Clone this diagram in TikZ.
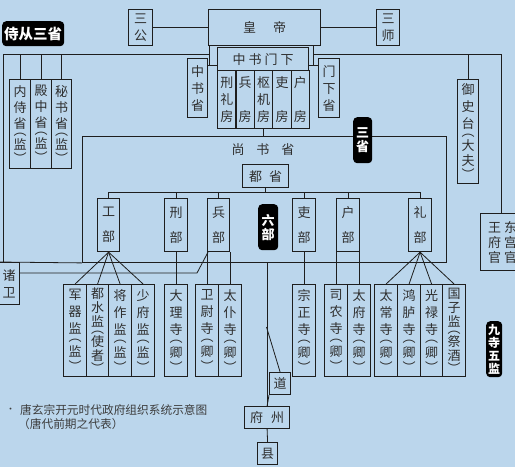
\documentclass[tikz,border=0pt]{standalone}
\usepackage{fontspec}
\setmainfont{Noto Sans CJK SC}
\definecolor{bg}{HTML}{BBD6EC}
\definecolor{ln}{HTML}{1E1E1E}
\definecolor{tx}{HTML}{2E2E2E}
\definecolor{cap}{HTML}{3C3C3C}
\newcommand\vp[1]{\\[-9pt]︵\\[-2pt]#1\\[-2pt]︶}
\newcommand\vq[2]{\\[-7pt]︵\\[-1pt]#1\\#2\\[-1pt]︶}
\tikzset{
  bx/.style={draw=ln, line width=1.2pt, inner sep=0pt, align=center, text=tx,
    font=\fontsize{13}{17}\selectfont, anchor=north west},
  sz/.style 2 args={minimum width=#1, minimum height=#2},
  con/.style={draw=ln, line width=0.8pt},
  tag/.style={fill=black, rounded corners=4pt, text=white, inner sep=0pt, align=center,
    anchor=north west, font=\fontsize{13}{14}\selectfont\bfseries},
}
\begin{document}
\begin{tikzpicture}[x=1pt,y=-1pt]
\useasboundingbox (0,0) rectangle (515,467);
\fill[bg] (0,0) rectangle (515,467);
\clip (0,0) rectangle (515,467);

% top
\node[bx,sz={112}{36}] (hd) at (208,9) {皇\hspace{17pt}帝};
\node[bx,sz={24}{36}] (sg) at (128,9) {三\\公};
\node[bx,sz={23}{36}] (ss) at (376,9) {三\\师};
\node[bx,sz={91}{23}] (zm) at (217,47) {中\hspace{3pt}书\hspace{3pt}门\hspace{3pt}下};
\node[bx,sz={18.4}{58}] (c1) at (217,70) {刑\\礼\\房};
\node[bx,sz={18.4}{58}] (c2) at (235.4,70) {兵\\[17pt]房};
\node[bx,sz={18.4}{58}] (c3) at (253.8,70) {枢\\机\\房};
\node[bx,sz={18.4}{58}] (c4) at (272.2,70) {吏\\[17pt]房};
\node[bx,sz={18.4}{58}] (c5) at (290.6,70) {户\\[17pt]房};
\node[bx,sz={20}{59}] (zss) at (187,58) {中\\书\\省};
\node[bx,sz={21}{59}] (mxs) at (318,58) {门\\下\\省};

% attendants
\node[bx,sz={21}{89},font=\fontsize{13}{16}\selectfont] (nsj) at (9,79) {内\\侍\\省\vp{监}};
\node[bx,sz={21}{89},font=\fontsize{13}{16}\selectfont] (dzs) at (30,79) {殿\\中\\省\vp{监}};
\node[bx,sz={20}{89},font=\fontsize{13}{16}\selectfont] (msj) at (51,79) {秘\\书\\省\vp{监}};
\node[bx,sz={21}{104}] (ysd) at (457,79) {御\\史\\台\\[-9pt]︵\\[-3pt]大\\[-2pt]夫\\[-3pt]︶};
\node[bx,sz={44}{57},font=\fontsize{13}{15}\selectfont] (dg) at (480,213) {王\hspace{3pt}东\\府\hspace{3pt}宫\\官\hspace{3pt}官};
\node[bx,sz={21}{42}] (zw) at (-2,262) {诸\\卫};

% shangshu
\node[draw=ln, line width=0.9pt, sz={364}{126}, anchor=north west, inner sep=0pt] (ssx) at (82,136) {};
\node[text=tx, font=\fontsize{13}{15}\selectfont, inner sep=0pt] (sst) at (263,150) {尚\hspace{12pt}书\hspace{12pt}省};
\node[bx,sz={46}{23}] (ds) at (242,164) {都\hspace{7pt}省};
\node[bx,sz={22}{53}] (gb) at (97,198) {工\\[8pt]部};
\node[bx,sz={23}{53}] (xb) at (164,198) {刑\\[8pt]部};
\node[bx,sz={22}{53}] (bb) at (207,198) {兵\\[8pt]部};
\node[bx,sz={23}{53}] (lib) at (292,198) {吏\\[8pt]部};
\node[bx,sz={23}{53}] (hb) at (336,198) {户\\[8pt]部};
\node[bx,sz={23}{53}] (lj) at (408,198) {礼\\[8pt]部};

% offices
\tikzset{of/.style={bx,sz={23}{92},font=\fontsize{13}{17}\selectfont}, oq/.style={bx,sz={22}{92},font=\fontsize{13}{14}\selectfont}}
\node[of] (jq) at (63,284) {军\\器\\监\vp{监}};
\node[oq] (dsj) at (86,284) {都\\水\\监\vq{使}{者}};
\node[of] (jz) at (108,284) {将\\作\\监\vp{监}};
\node[of] (sf) at (131,284) {少\\府\\监\vp{监}};
\node[of] (dl) at (164,284) {大\\理\\寺\vp{卿}};
\node[of] (ww) at (195,284) {卫\\尉\\寺\vp{卿}};
\node[of] (tp) at (218,284) {太\\仆\\寺\vp{卿}};
\node[of] (zz) at (292,284) {宗\\正\\寺\vp{卿}};
\node[of] (sn) at (324,284) {司\\农\\寺\vp{卿}};
\node[of] (tf) at (347,284) {太\\府\\寺\vp{卿}};
\node[of] (tc) at (374,284) {太\\常\\寺\vp{卿}};
\node[of] (hl) at (397,284) {鸿\\胪\\寺\vp{卿}};
\node[of,sz={22}{92}] (gl) at (420,284) {光\\禄\\寺\vp{卿}};
\node[oq,sz={23}{92}] (gz) at (442,284) {国\\子\\监\vq{祭}{酒}};

% local
\node[bx,sz={45}{22}] (fz) at (244,406) {府\hspace{8pt}州};
\node[bx,sz={21}{22}] (dao) at (269,372) {道};
\node[bx,sz={20}{22}] (xian) at (257,442) {县};

% coordinates
\coordinate (lk) at (209.5,65);
\coordinate (rk) at (313,65);
\coordinate (lbus) at (3,54);
\coordinate (rbus) at (501,54);
\coordinate (by) at (0,192);
\coordinate (zk) at (197,273);
\coordinate (dk) at (266.5,327);

% connectors
\draw[con] (sg.east) -- (sg.east -| hd.west);
\draw[con] (hd.east |- ss.west) -- (ss.west);
\draw[con] (hd.south -| lk) -- (lk);
\draw[con] (zss.east |- lk) -- (zm.west |- lk);
\draw[con] (hd.south -| rk) -- (rk);
\draw[con] (zm.east |- rk) -- (mxs.west |- rk);
\draw[con] (lk |- lbus) -- (lbus) -- (lbus |- zw.north);
\draw[con] (rk |- rbus) -- (rbus) -- (rbus |- dg.north);
\draw[con] (ysd.north) -- (ysd.north |- rbus);
\foreach \t in {nsj,dzs,msj} \draw[con] (\t.north) -- (\t.north |- lbus);
\draw[con] (c3.south) -- (c3.south |- ssx.north);
\draw[con] (zw.north west) -- (ssx.south west);
\draw[con] (ds.south) -- (ds.south |- by);
\draw[con] (gb.north) -- (gb.north |- by) -- (lj.north |- by) -- (lj.north);
\foreach \t in {xb,bb,lib,hb} \draw[con] (\t.north) -- (\t.north |- by);
\foreach \t in {jq,dsj,jz,sf} \draw[con] (gb.south) -- (\t.north);
\draw[con] (xb.south) -- (dl.north);
\draw[con] (ww.north) -- (ww.north |- bb.south);
\draw[con] (tp.north) -- (tp.north |- bb.south);
\draw[con] (lib.south) -- (zz.north);
\draw[con] (sn.north) -- (sn.north |- hb.south);
\draw[con] (tf.north) -- (tf.north |- hb.south);
\foreach \t in {tc,hl,gl,gz} \draw[con] (lj.south) -- (\t.north);
\draw[con] ([xshift=1pt]bb.south west) -- (zk) -- (zk -| zw.east);
\draw[con] (fz.north |- ssx.south) -- (fz.north);
\draw[con] (dk) -- (dao.north);
\draw[con] (dao.south west) -- (fz.north);
\draw[con] (fz.south) -- (xian.north);

% tags
\node[tag,sz={62}{25},font=\fontsize{14.5}{15}\selectfont\bfseries] (t1) at (2,21) {侍从三省};
\node[tag,sz={19}{46}] (t2) at (353,117) {三\\省};
\node[tag,sz={20}{46}] (t3) at (258,204) {六\\部};
\node[tag,sz={16}{56},font=\fontsize{12}{13}\selectfont\bfseries] (t4) at (486,321) {九\\寺\\五\\监};

% caption
\node[anchor=west, inner sep=0pt, text=cap, font=\fontsize{9}{10}\selectfont] (bul) at (6,410) {•};
\node[anchor=west, inner sep=0pt, text=cap, font=\fontsize{11.7}{13}\selectfont] (cap1) at (20,410) {唐玄宗开元时代政府组织系统示意图};
\node[anchor=west, inner sep=0pt, text=cap, font=\fontsize{11.7}{13}\selectfont] (cap2) at (18,424) {（唐代前期之代表）};
\end{tikzpicture}
\end{document}
